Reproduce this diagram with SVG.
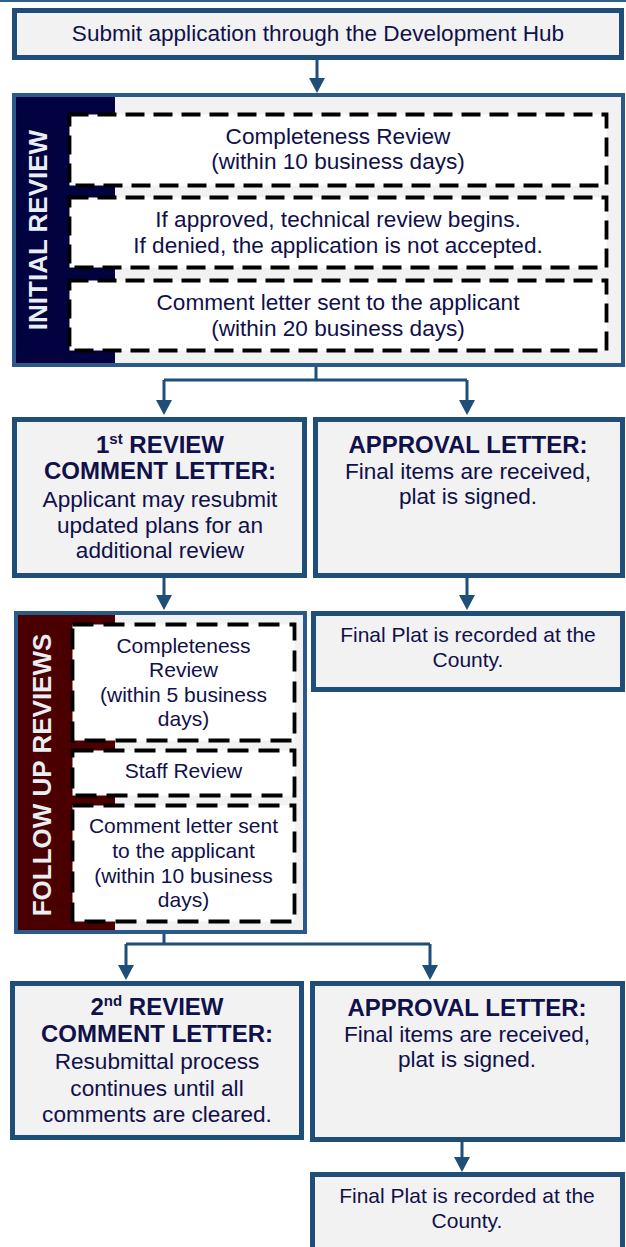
<svg xmlns="http://www.w3.org/2000/svg" width="626" height="1247" viewBox="0 0 626 1247">
<style>
.node{fill:#F2F2F2;stroke:#1F4E79;stroke-width:5}
.cont{fill:#F2F2F2;stroke:#2B5A8A;stroke-width:4}
.dash{fill:#FFFFFF;stroke:#000000;stroke-width:3.8;stroke-dasharray:19 9}
.dash2{fill:#FFFFFF;stroke:#000000;stroke-width:3.8;stroke-dasharray:21 10}
.conn{fill:none;stroke:#1F4E79;stroke-width:3}
.t{font-family:"Liberation Sans",Arial,sans-serif;fill:#10104A;text-anchor:middle}
.b22{font-size:22.6px}
.b21{font-size:21px}
.h{font-size:24px;font-weight:bold}
.side{font-family:"Liberation Sans",Arial,sans-serif;font-size:26px;font-weight:bold;fill:#E8EEF2;text-anchor:middle}
</style>
<defs>
<marker id="arr" viewBox="0 0 15 16" refX="9" refY="8" markerWidth="15" markerHeight="16" markerUnits="userSpaceOnUse" orient="auto">
<path d="M0,0 L15,8 L0,16 z" fill="#1F4E79"/>
</marker>
</defs>
<rect x="0" y="0" width="626" height="2" fill="#2F5F8F"/>
<g id="connectors">
<path class="conn" d="M317,60 V87" marker-end="url(#arr)"/>
<path class="conn" d="M316,366 V380 M164,380 H467"/>
<path class="conn" d="M164,380 V409" marker-end="url(#arr)"/>
<path class="conn" d="M467,380 V409" marker-end="url(#arr)"/>
<path class="conn" d="M164,577 V604" marker-end="url(#arr)"/>
<path class="conn" d="M467,577 V604" marker-end="url(#arr)"/>
<path class="conn" d="M164,933 V944 M126,944 H430"/>
<path class="conn" d="M126,944 V974" marker-end="url(#arr)"/>
<path class="conn" d="M430,944 V974" marker-end="url(#arr)"/>
<path class="conn" d="M462,1141 V1166" marker-end="url(#arr)"/>
</g>
<g id="submit">
<rect class="node" x="14.5" y="10.5" width="607" height="47"/>
<text class="t b22" x="318" y="41">Submit application through the Development Hub</text>
</g>
<g id="initial-review">
<rect class="cont" x="14" y="95" width="609" height="270"/>
<rect x="16" y="97" width="99" height="266" fill="#020240"/>
<text class="side" transform="translate(47,230) rotate(-90)">INITIAL REVIEW</text>
<g id="ir-completeness">
<rect class="dash" x="69.5" y="114.5" width="537" height="71"/>
<text class="t b22" x="338" y="144">Completeness Review</text>
<text class="t b22" x="338" y="169">(within 10 business days)</text>
</g>
<g id="ir-technical">
<rect class="dash" x="69.5" y="197.5" width="537" height="70"/>
<text class="t b22" x="338" y="227">If approved, technical review begins.</text>
<text class="t b22" x="338" y="253">If denied, the application is not accepted.</text>
</g>
<g id="ir-comment">
<rect class="dash" x="69.5" y="280.5" width="537" height="70"/>
<text class="t b22" x="338" y="310">Comment letter sent to the applicant</text>
<text class="t b22" x="338" y="336">(within 20 business days)</text>
</g>
</g>
<g id="first-review">
<rect class="node" x="14.5" y="419.5" width="290" height="156"/>
<text class="t h" x="160" y="453">1<tspan font-size="15" dy="-9">st</tspan><tspan dy="9"> REVIEW</tspan></text>
<text class="t h" x="160" y="479">COMMENT LETTER:</text>
<text class="t b22" x="160" y="507">Applicant may resubmit</text>
<text class="t b22" x="160" y="533">updated plans for an</text>
<text class="t b22" x="160" y="558">additional review</text>
</g>
<g id="approval-1">
<rect class="node" x="315.5" y="419.5" width="307" height="156"/>
<text class="t h" x="468" y="453">APPROVAL LETTER:</text>
<text class="t b22" x="468" y="479">Final items are received,</text>
<text class="t b22" x="468" y="504">plat is signed.</text>
</g>
<g id="follow-up">
<rect class="cont" x="16" y="613" width="289" height="319"/>
<rect x="18" y="615" width="97" height="315" fill="#4A0000"/>
<text class="side" transform="translate(51,775) rotate(-90)">FOLLOW UP REVIEWS</text>
<g id="fu-completeness">
<rect class="dash2" x="72.5" y="624.5" width="222" height="116"/>
<text class="t b21" x="183.5" y="653">Completeness</text>
<text class="t b21" x="183.5" y="677">Review</text>
<text class="t b21" x="183.5" y="702">(within 5 business</text>
<text class="t b21" x="183.5" y="726">days)</text>
</g>
<g id="fu-staff">
<rect class="dash2" x="72.5" y="750.5" width="222" height="45"/>
<text class="t b21" x="183.5" y="778">Staff Review</text>
</g>
<g id="fu-comment">
<rect class="dash2" x="72.5" y="805.5" width="222" height="116"/>
<text class="t b21" x="183.5" y="833">Comment letter sent</text>
<text class="t b21" x="183.5" y="858">to the applicant</text>
<text class="t b21" x="183.5" y="883">(within 10 business</text>
<text class="t b21" x="183.5" y="907">days)</text>
</g>
</g>
<g id="final-plat-1">
<rect class="node" x="313.5" y="613.5" width="309" height="76"/>
<text class="t b21" x="468" y="642">Final Plat is recorded at the</text>
<text class="t b21" x="468" y="667">County.</text>
</g>
<g id="second-review">
<rect class="node" x="12.5" y="983.5" width="289" height="154"/>
<text class="t h" x="157" y="1015">2<tspan font-size="15" dy="-9">nd</tspan><tspan dy="9"> REVIEW</tspan></text>
<text class="t h" x="157" y="1042">COMMENT LETTER:</text>
<text class="t b22" x="157" y="1069">Resubmittal process</text>
<text class="t b22" x="157" y="1096">continues until all</text>
<text class="t b22" x="157" y="1122">comments are cleared.</text>
</g>
<g id="approval-2">
<rect class="node" x="312.5" y="983.5" width="310" height="156"/>
<text class="t h" x="467" y="1016">APPROVAL LETTER:</text>
<text class="t b22" x="467" y="1042">Final items are received,</text>
<text class="t b22" x="467" y="1067">plat is signed.</text>
</g>
<g id="final-plat-2">
<rect class="node" x="312.5" y="1174.5" width="310" height="100"/>
<text class="t b21" x="467" y="1203">Final Plat is recorded at the</text>
<text class="t b21" x="467" y="1228">County.</text>
</g>
</svg>
